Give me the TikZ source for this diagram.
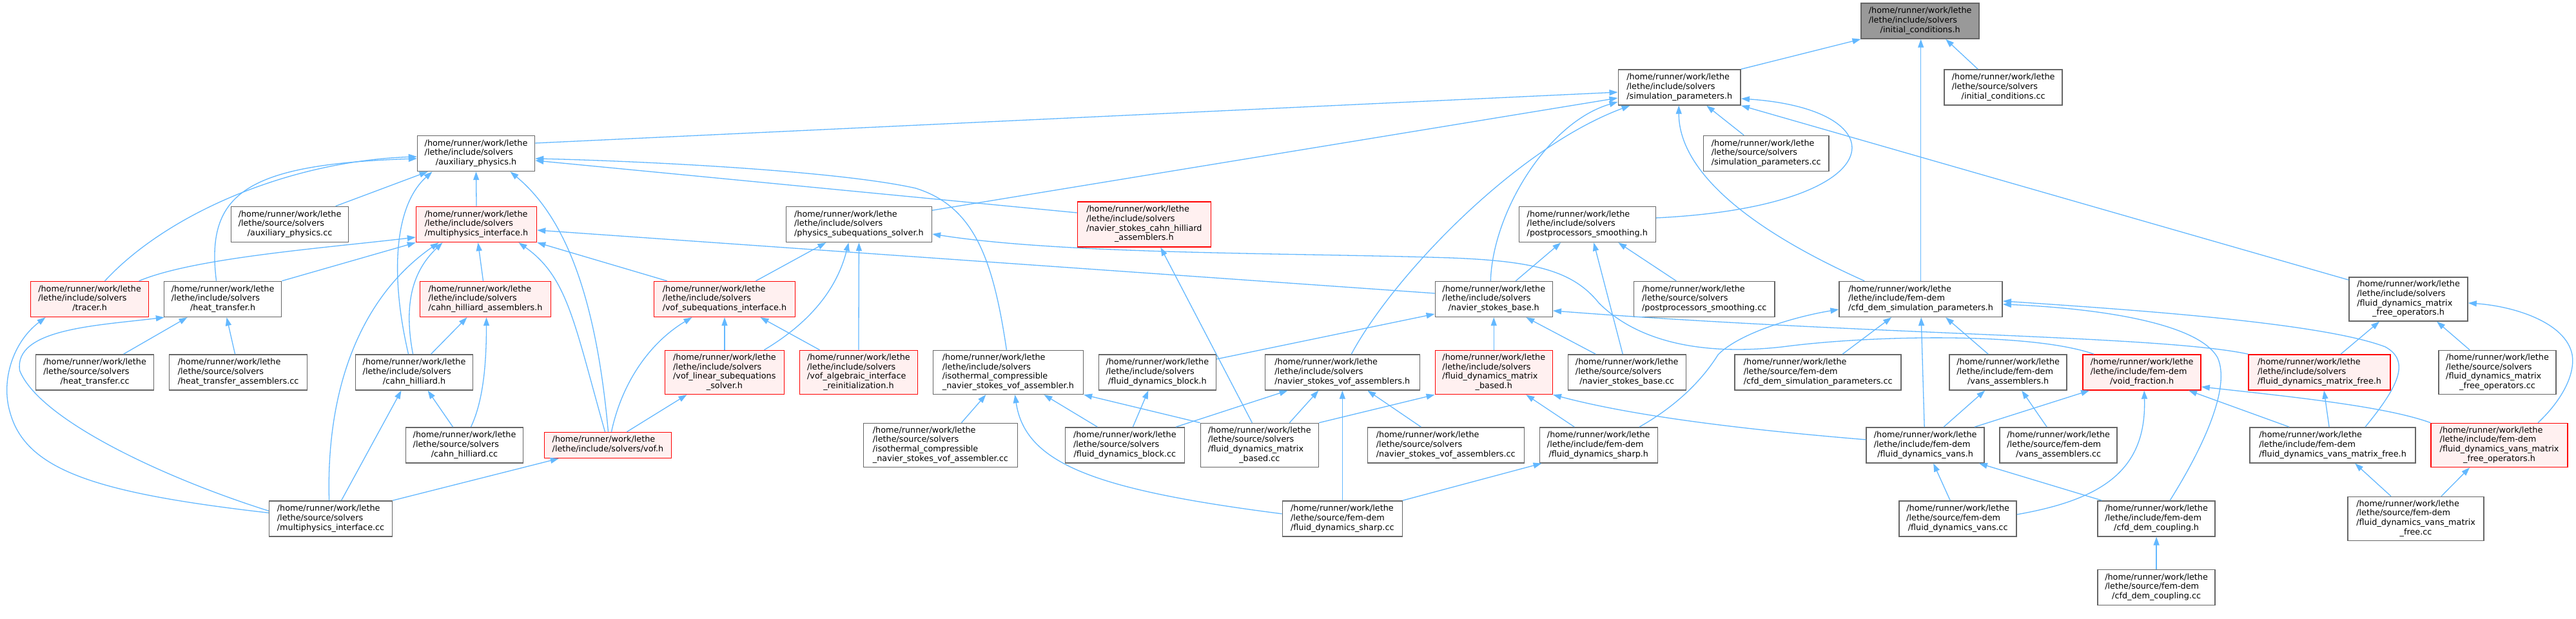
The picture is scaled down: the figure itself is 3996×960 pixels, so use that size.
\documentclass[tikz,border=0pt]{standalone}
\usepackage{fontspec}
\setmainfont{DejaVu Sans}
\usetikzlibrary{arrows.meta}
\definecolor{edgeblue}{HTML}{63B8FF}
\definecolor{nodegrey}{HTML}{666666}
\definecolor{rootfill}{HTML}{999999}
\definecolor{redfill}{HTML}{FFF0F0}
\definecolor{redline}{HTML}{FF0000}
\newcommand{\HomeP}{/home/runner/work/lethe}
\newcommand{\dfont}{\fontsize{12.8}{14.7}\selectfont}
\newcommand{\lbtwo}[2]{\begin{tabular}{@{}l@{}}#1\\\multicolumn{1}{@{}c@{}}{#2}\end{tabular}}
\newcommand{\lbthree}[3]{\begin{tabular}{@{}l@{}}#1\\#2\\\multicolumn{1}{@{}c@{}}{#3}\end{tabular}}
\newcommand{\lbfour}[4]{\begin{tabular}{@{}l@{}}#1\\#2\\#3\\\multicolumn{1}{@{}c@{}}{#4}\end{tabular}}
\begin{document}
\begin{tikzpicture}[x=1pt,y=-1pt,
  wn/.style={draw=nodegrey,fill=white,line width=1.5pt,inner sep=0pt,minimum height=55pt,font=\dfont},
  rn/.style={wn,draw=redline,fill=redfill},
  rootn/.style={wn,fill=rootfill},
  lines4/.style={minimum height=68pt},
  lines2/.style={minimum height=40pt},
  conn/.style={draw=edgeblue,line width=1.3pt,-{Triangle[length=13pt,width=9pt]}}]
\fill[white] (0,0) rectangle (3996,960);
% row 1-3
\node[rootn,minimum width=183pt] (ic) at (2978.5,32.5) {\lbthree{\HomeP}{/lethe/include/solvers}{/initial\_conditions.h}};
\node[wn,minimum width=190pt] (sp) at (2605,135.5) {\lbthree{\HomeP}{/lethe/include/solvers}{/simulation\_parameters.h}};
\node[wn,minimum width=183pt] (icc) at (3107.5,135.5) {\lbthree{\HomeP}{/lethe/source/solvers}{/initial\_conditions.cc}};
\node[wn,minimum width=182pt] (aux) at (738,238) {\lbthree{\HomeP}{/lethe/include/solvers}{/auxiliary\_physics.h}};
\node[wn,minimum width=195pt] (spcc) at (2739.5,238) {\lbthree{\HomeP}{/lethe/source/solvers}{/simulation\_parameters.cc}};
% row 4
\node[wn,minimum width=182pt] (auxcc) at (449,348) {\lbthree{\HomeP}{/lethe/source/solvers}{/auxiliary\_physics.cc}};
\node[rn,minimum width=187pt] (mi) at (738.5,348) {\lbthree{\HomeP}{/lethe/include/solvers}{/multiphysics\_interface.h}};
\node[wn,minimum width=226pt] (pss) at (1332,348) {\lbthree{\HomeP}{/lethe/include/solvers}{/physics\_subequations\_solver.h}};
\node[rn,minimum width=207pt,minimum height=70pt] (nscha) at (1774.5,348) {\lbfour{\HomeP}{/lethe/include/solvers}{/navier\_stokes\_cahn\_hilliard}{\_assemblers.h}};
\node[wn,minimum width=212pt] (pps) at (2462,348) {\lbthree{\HomeP}{/lethe/include/solvers}{/postprocessors\_smoothing.h}};
% row 5
\node[rn,minimum width=183pt] (tracer) at (138.5,464) {\lbthree{\HomeP}{/lethe/include/solvers}{/tracer.h}};
\node[wn,minimum width=182pt] (ht) at (345,464) {\lbthree{\HomeP}{/lethe/include/solvers}{/heat\_transfer.h}};
\node[rn,minimum width=203pt] (cha) at (752.5,464) {\lbthree{\HomeP}{/lethe/include/solvers}{/cahn\_hilliard\_assemblers.h}};
\node[rn,minimum width=219pt] (vsi) at (1123.5,464) {\lbthree{\HomeP}{/lethe/include/solvers}{/vof\_subequations\_interface.h}};
\node[wn,minimum width=182pt] (nsb) at (2317,464) {\lbthree{\HomeP}{/lethe/include/solvers}{/navier\_stokes\_base.h}};
\node[wn,minimum width=219pt] (ppscc) at (2643.5,464) {\lbthree{\HomeP}{/lethe/source/solvers}{/postprocessors\_smoothing.cc}};
\node[wn,minimum width=253pt] (cdsp) at (2979.5,464) {\lbthree{\HomeP}{/lethe/include/fem-dem}{/cfd\_dem\_simulation\_parameters.h}};
\node[wn,lines4,minimum width=184pt] (fmfo) at (3736,464) {\lbfour{\HomeP}{/lethe/include/solvers}{/fluid\_dynamics\_matrix}{\_free\_operators.h}};
% row 6
\node[wn,minimum width=183pt] (htcc) at (146.5,577.5) {\lbthree{\HomeP}{/lethe/source/solvers}{/heat\_transfer.cc}};
\node[wn,minimum width=214pt] (htacc) at (369,577.5) {\lbthree{\HomeP}{/lethe/source/solvers}{/heat\_transfer\_assemblers.cc}};
\node[wn,minimum width=182pt] (ch) at (642,577.5) {\lbthree{\HomeP}{/lethe/include/solvers}{/cahn\_hilliard.h}};
\node[rn,lines4,minimum width=185pt] (vlss) at (1123.5,577.5) {\lbfour{\HomeP}{/lethe/include/solvers}{/vof\_linear\_subequations}{\_solver.h}};
\node[rn,lines4,minimum width=183pt] (vair) at (1331.5,577.5) {\lbfour{\HomeP}{/lethe/include/solvers}{/vof\_algebraic\_interface}{\_reinitialization.h}};
\node[wn,lines4,minimum width=233pt] (icnsvh) at (1563.5,577.5) {\lbfour{\HomeP}{/lethe/include/solvers}{/isothermal\_compressible}{\_navier\_stokes\_vof\_assembler.h}};
\node[wn,minimum width=182pt] (fdbh) at (1795,577.5) {\lbthree{\HomeP}{/lethe/include/solvers}{/fluid\_dynamics\_block.h}};
\node[wn,minimum width=240pt] (nsvah) at (2082,577.5) {\lbthree{\HomeP}{/lethe/include/solvers}{/navier\_stokes\_vof\_assemblers.h}};
\node[rn,lines4,minimum width=182pt] (fdmbh) at (2317,577.5) {\lbfour{\HomeP}{/lethe/include/solvers}{/fluid\_dynamics\_matrix}{\_based.h}};
\node[wn,minimum width=183pt] (nsbcc) at (2523.5,577.5) {\lbthree{\HomeP}{/lethe/source/solvers}{/navier\_stokes\_base.cc}};
\node[wn,minimum width=258pt] (cdspcc) at (2820,577.5) {\lbthree{\HomeP}{/lethe/source/fem-dem}{/cfd\_dem\_simulation\_parameters.cc}};
\node[wn,minimum width=182pt] (vah) at (3115,577.5) {\lbthree{\HomeP}{/lethe/include/fem-dem}{/vans\_assemblers.h}};
\node[rn,minimum width=183pt] (vfh) at (3322.5,577.5) {\lbthree{\HomeP}{/lethe/include/fem-dem}{/void\_fraction.h}};
\node[rn,minimum width=220pt] (fmfh) at (3598,577.5) {\lbthree{\HomeP}{/lethe/include/solvers}{/fluid\_dynamics\_matrix\_free.h}};
\node[wn,lines4,minimum width=182pt] (fmfocc) at (3874,577.5) {\lbfour{\HomeP}{/lethe/source/solvers}{/fluid\_dynamics\_matrix}{\_free\_operators.cc}};
% row 7
\node[wn,minimum width=182pt] (chcc) at (720,690.5) {\lbthree{\HomeP}{/lethe/source/solvers}{/cahn\_hilliard.cc}};
\node[rn,lines2,minimum width=197pt] (vofh) at (942.5,690.5) {\lbtwo{\HomeP}{/lethe/include/solvers/vof.h}};
\node[wn,lines4,minimum width=239pt] (icnsvcc) at (1458.5,690.5) {\lbfour{\HomeP}{/lethe/source/solvers}{/isothermal\_compressible}{\_navier\_stokes\_vof\_assembler.cc}};
\node[wn,minimum width=185pt] (fdbcc) at (1744.5,690.5) {\lbthree{\HomeP}{/lethe/source/solvers}{/fluid\_dynamics\_block.cc}};
\node[wn,lines4,minimum width=183pt] (fdmbcc) at (1953.5,690.5) {\lbfour{\HomeP}{/lethe/source/solvers}{/fluid\_dynamics\_matrix}{\_based.cc}};
\node[wn,minimum width=243pt] (nsvacc) at (2242.5,690.5) {\lbthree{\HomeP}{/lethe/source/solvers}{/navier\_stokes\_vof\_assemblers.cc}};
\node[wn,minimum width=183pt] (fdsh) at (2479.5,690.5) {\lbthree{\HomeP}{/lethe/include/fem-dem}{/fluid\_dynamics\_sharp.h}};
\node[wn,minimum width=183pt] (fdvh) at (2986.5,690.5) {\lbthree{\HomeP}{/lethe/include/fem-dem}{/fluid\_dynamics\_vans.h}};
\node[wn,minimum width=182pt] (vacc) at (3193,690.5) {\lbthree{\HomeP}{/lethe/source/fem-dem}{/vans\_assemblers.cc}};
\node[wn,minimum width=257pt] (fdvmfh) at (3618.5,690.5) {\lbthree{\HomeP}{/lethe/include/fem-dem}{/fluid\_dynamics\_vans\_matrix\_free.h}};
\node[rn,lines4,minimum width=212pt] (fdvmfoh) at (3877,690.5) {\lbfour{\HomeP}{/lethe/include/fem-dem}{/fluid\_dynamics\_vans\_matrix}{\_free\_operators.h}};
% row 8-9
\node[wn,minimum width=191pt] (micc) at (512.5,804.5) {\lbthree{\HomeP}{/lethe/source/solvers}{/multiphysics\_interface.cc}};
\node[wn,minimum width=186pt] (fdscc) at (2082,804.5) {\lbthree{\HomeP}{/lethe/source/fem-dem}{/fluid\_dynamics\_sharp.cc}};
\node[wn,minimum width=182pt] (fdvcc) at (3037,804.5) {\lbthree{\HomeP}{/lethe/source/fem-dem}{/fluid\_dynamics\_vans.cc}};
\node[wn,minimum width=182pt] (cdch) at (3345,804.5) {\lbthree{\HomeP}{/lethe/include/fem-dem}{/cfd\_dem\_coupling.h}};
\node[wn,lines4,minimum width=211pt] (fdvmfcc) at (3747.5,804.5) {\lbfour{\HomeP}{/lethe/source/fem-dem}{/fluid\_dynamics\_vans\_matrix}{\_free.cc}};
\node[wn,minimum width=182pt] (cdccc) at (3345,911) {\lbthree{\HomeP}{/lethe/source/fem-dem}{/cfd\_dem\_coupling.cc}};
% edges
\draw[conn] (sp.north east) -- (ic.south west);
\draw[conn] ([xshift=-39.5pt]icc.north) -- ([xshift=39.5pt]ic.south);
\draw[conn] (cdsp.north) -- ([xshift=1pt]ic.south);
\draw[conn] ([yshift=16pt]aux.east) -- ([yshift=-7.5pt]sp.west);
\draw[conn] ([yshift=-6.5pt]pss.north east) -- ([yshift=-16.5pt]sp.west);
\draw[conn] ([xshift=-5pt]nsb.north) .. controls (2315,330) and (2400,190) .. ([yshift=-22.5pt]sp.west);
\draw[conn] ([xshift=14pt]nsvah.north) .. controls (2160,430) and (2350,230) .. ([xshift=19pt]sp.south west);
\draw[conn] ([xshift=-87.5pt]cdsp.north) .. controls (2700,350) and (2604,260) .. ([xshift=-1pt]sp.south);
\draw[conn] ([xshift=-34.5pt]spcc.north) -- ([xshift=42pt]sp.south);
\draw[conn] ([yshift=10pt]pps.east) .. controls (2940,320) and (2950,170) .. ([yshift=-17.5pt]sp.east);
\draw[conn] ([yshift=-5pt]fmfo.north west) -- (sp.south east);
\draw[conn] (mi.north) -- (aux.south);
\draw[conn] ([xshift=71pt]auxcc.north) -- ([xshift=-75pt]aux.south);
\draw[conn] ([xshift=23.5pt]tracer.north) .. controls (260,330) and (450,250) .. ([yshift=-5pt]aux.west);
\draw[conn] ([xshift=-10pt]ht.north) .. controls (318,300) and (380,255) .. ([yshift=-8pt]aux.west);
\draw[conn] ([xshift=-9pt]ch.north) .. controls (605,430) and (610,320) .. ([xshift=-68pt]aux.south);
\draw[conn] ([xshift=0.5pt]vofh.north) .. controls (925,470) and (880,340) .. ([xshift=53pt]aux.south);
\draw[conn] ([xshift=-2.5pt]icnsvh.north) .. controls (1540,400) and (1510,320) .. (1420,292) .. controls (1300,265) and (1000,250) .. ([yshift=-8pt]aux.east);
\draw[conn] ([yshift=18pt]nscha.west) -- ([yshift=-11pt]aux.east);
\draw[conn] ([xshift=76.5pt]tracer.north) .. controls (300,400) and (500,385) .. ([yshift=-20pt]mi.west);
\draw[conn] (ht.north east) -- (mi.south west);
\draw[conn] ([xshift=-3.5pt]cha.north) -- ([xshift=2.5pt]mi.south);
\draw[conn] ([xshift=-2pt]ch.north) .. controls (625,470) and (640,420) .. ([xshift=-52.5pt]mi.south);
\draw[conn] ([xshift=-2.5pt]micc.north) .. controls (505,600) and (560,460) .. ([xshift=-58.5pt]mi.south);
\draw[conn] ([xshift=-4.5pt]vofh.north) .. controls (890,500) and (880,430) .. ([xshift=65.5pt]mi.south);
\draw[conn] ([xshift=21pt]vsi.north west) -- (mi.south east);
\draw[conn] ([yshift=9pt]nsb.west) -- ([yshift=-9pt]mi.east);
\draw[conn] ([xshift=48.5pt]vsi.north) -- ([xshift=-51pt]pss.south);
\draw[conn] ([xshift=61.5pt]vlss.north) .. controls (1265,495) and (1300,440) .. ([xshift=-16pt]pss.south);
\draw[conn] (vair.north) -- (pss.south);
\draw[conn] ([xshift=-74.5pt]vfh.north) .. controls (3150,515) and (2900,520) .. (2765,538) .. controls (2640,552) and (2540,530) .. (2480,470) .. controls (2440,420) and (2380,405) .. (2250,400) .. controls (2000,392) and (1650,395) .. ([yshift=-15pt]pss.east);
\draw[conn] ([xshift=-11.5pt]fdmbcc.north) -- ([xshift=25.5pt]nscha.south);
\draw[conn] ([xshift=34pt]nsb.north) -- ([xshift=-41pt]pps.south);
\draw[conn] ([xshift=-6.5pt]nsbcc.north) -- ([xshift=10pt]pps.south);
\draw[conn] ([xshift=-43.5pt]ppscc.north) -- ([xshift=48pt]pps.south);
\draw[conn] ([xshift=44.5pt]htcc.north) -- ([xshift=-55pt]ht.south);
\draw[conn] ([xshift=-5pt]htacc.north) -- ([xshift=6pt]ht.south);
\draw[conn] ([yshift=9pt]micc.west) .. controls (150,765) and (40,730) .. (15,640) .. controls (0,590) and (20,530) .. ([xshift=-68.5pt]tracer.south);
\draw[conn] ([yshift=12pt]micc.west) .. controls (250,740) and (60,650) .. (30,575) .. controls (20,510) and (150,505) .. ([xshift=1pt]ht.south west);
\draw[conn] ([xshift=26pt]ch.north) -- ([xshift=-28.5pt]cha.south);
\draw[conn] ([xshift=10pt]chcc.north) .. controls (750,620) and (754,560) .. ([xshift=1.5pt]cha.south);
\draw[conn] ([xshift=-18pt]chcc.north) -- ([xshift=21pt]ch.south);
\draw[conn] ([xshift=16.5pt]micc.north) -- ([xshift=-20pt]ch.south);
\draw[conn] (vlss.north) -- (vsi.south);
\draw[conn] ([xshift=-60.5pt]vair.north) -- ([xshift=55.5pt]vsi.south);
\draw[conn] ([xshift=5.5pt]vofh.north) .. controls (965,590) and (1010,530) .. ([xshift=-50.5pt]vsi.south);
\draw[conn] ([xshift=29.5pt]vofh.north) -- ([xshift=-58.5pt]vlss.south);
\draw[conn] (micc.north east) -- ([xshift=23pt]vofh.south west);
\draw[conn] (fdmbh.north) -- (nsb.south);
\draw[conn] ([xshift=-48.5pt]nsbcc.north) -- ([xshift=50pt]nsb.south);
\draw[conn] ([yshift=20.5pt]fdbh.east) -- ([yshift=-23pt]nsb.west);
\draw[conn] (fmfh.north west) .. controls (3350,520) and (2900,520) .. ([yshift=-18pt]nsb.east);
\draw[conn] ([xshift=-29pt]fdsh.north east) .. controls (2600,630) and (2640,590) .. (2665,550) .. controls (2700,515) and (2790,490) .. ([yshift=-16pt]cdsp.west);
\draw[conn] ([xshift=38pt]cdspcc.north) -- ([xshift=-45.5pt]cdsp.south);
\draw[conn] ([xshift=-1.5pt]fdvh.north) -- ([xshift=0.5pt]cdsp.south);
\draw[conn] ([xshift=50.5pt]fdvmfh.north) .. controls (3720,600) and (3740,560) .. (3700,538) .. controls (3600,500) and (3300,480) .. ([yshift=-3pt]cdsp.east);
\draw[conn] ([xshift=21pt]cdch.north) .. controls (3420,690) and (3460,600) .. (3440,555) .. controls (3410,500) and (3250,478) .. ([yshift=-8pt]cdsp.east);
\draw[conn] ([xshift=-31pt]vah.north) -- ([xshift=38.5pt]cdsp.south);
\draw[conn] ([xshift=33pt]fmfh.north) -- ([xshift=-45pt]fmfo.south);
\draw[conn] ([xshift=-43pt]fmfocc.north) -- ([xshift=44pt]fmfo.south);
\draw[conn] ([xshift=60pt]fdvmfoh.north) .. controls (3975,620) and (3995,580) .. (3990,550) .. controls (3980,500) and (3900,475) .. ([yshift=-6pt]fmfo.east);
\draw[conn] ([xshift=32.5pt]icnsvcc.north) -- ([xshift=-34.5pt]icnsvh.south);
\draw[conn] ([xshift=-42.5pt]fdbcc.north) -- ([xshift=55.5pt]icnsvh.south);
\draw[conn] (fdmbcc.north west) -- (icnsvh.south east);
\draw[conn] ([yshift=7.5pt]fdscc.west) .. controls (1700,760) and (1590,720) .. ([xshift=10.5pt]icnsvh.south);
\draw[conn] ([xshift=12.5pt]fdbcc.north) -- ([xshift=-14pt]fdbh.south);
\draw[conn] ([xshift=-14pt]fdbcc.north east) -- ([xshift=36pt]nsvah.south west);
\draw[conn] ([xshift=46.5pt]fdmbcc.north) -- ([xshift=-37pt]nsvah.south);
\draw[conn] (fdscc.north) -- (nsvah.south);
\draw[conn] ([xshift=-38.5pt]nsvacc.north) -- ([xshift=39pt]nsvah.south);
\draw[conn] (fdmbcc.north east) -- (fdmbh.south west);
\draw[conn] ([xshift=-37.5pt]fdsh.north) -- ([xshift=50pt]fdmbh.south);
\draw[conn] ([yshift=8.5pt]fdvh.west) .. controls (2750,670) and (2550,650) .. (fdmbh.south east);
\draw[conn] (fdscc.north east) -- ([xshift=4pt]fdsh.south west);
\draw[conn] ([xshift=28.5pt]fdvh.north) -- ([xshift=-36pt]vah.south);
\draw[conn] ([xshift=-18pt]vacc.north) -- ([xshift=21pt]vah.south);
\draw[conn] ([xshift=76.5pt]fdvh.north) -- ([xshift=-81.5pt]vfh.south);
\draw[conn] ([yshift=6.5pt]fdvcc.east) .. controls (3260,775) and (3330,730) .. ([xshift=3.5pt]vfh.south);
\draw[conn] ([xshift=-67.5pt]fdvmfh.north) -- ([xshift=72.5pt]vfh.south);
\draw[conn] (fdvmfoh.north west) .. controls (3700,630) and (3550,615) .. ([yshift=-22.5pt]vfh.east);
\draw[conn] ([xshift=-5.5pt]fdvmfh.north) -- ([xshift=7pt]fmfh.south);
\draw[conn] ([xshift=-12pt]fdvcc.north) -- ([xshift=12.5pt]fdvh.south);
\draw[conn] ([xshift=7pt]cdch.north west) -- ([xshift=-9pt]fdvh.south east);
\draw[conn] (cdccc.north) -- (cdch.south);
\draw[conn] ([xshift=-38.5pt]fdvmfcc.north) -- ([xshift=34.5pt]fdvmfh.south);
\draw[conn] ([xshift=39.5pt]fdvmfcc.north) -- ([xshift=-46pt]fdvmfoh.south);
\end{tikzpicture}
\end{document}
